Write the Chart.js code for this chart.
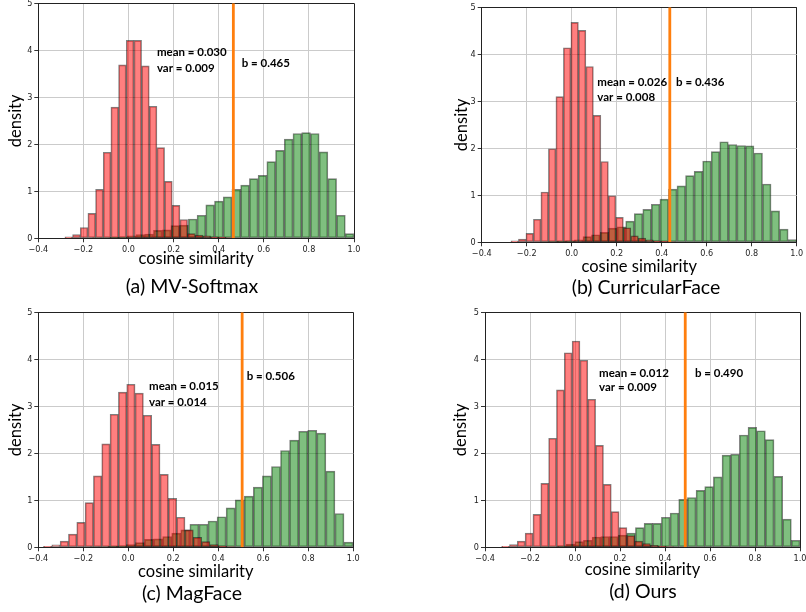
<!DOCTYPE html>
<html><head><meta charset="utf-8">
<script src="https://cdn.jsdelivr.net/npm/chart.js@4.4.1/dist/chart.umd.min.js"></script>
<style>
html,body{margin:0;padding:0;background:#fff;width:806px;height:612px;overflow:hidden;position:relative;}
canvas{position:absolute;}
.cap{position:absolute;width:300px;text-align:center;font-family:Lato,sans-serif;font-size:19.5px;line-height:22px;color:#000;white-space:nowrap;}
</style></head><body>
<canvas id="cA" width="400" height="300" style="left:0;top:0"></canvas>
<canvas id="cB" width="406" height="300" style="left:400px;top:0"></canvas>
<canvas id="cC" width="400" height="312" style="left:0;top:300px"></canvas>
<canvas id="cD" width="406" height="312" style="left:400px;top:300px"></canvas>
<div class="cap" style="left:42px;top:275px">(a) MV-Softmax</div>
<div class="cap" style="left:496px;top:276px">(b) CurricularFace</div>
<div class="cap" style="left:42px;top:582px">(c) MagFace</div>
<div class="cap" style="left:493px;top:580px">(d) Ours</div>
<script>
const xTickLabels = ['\u22120.4','\u22120.2','0.0','0.2','0.4','0.6','0.8','1.0'];
const yTickLabels = ['0','1','2','3','4','5'];
const xAxisTitle = 'cosine similarity';
const yAxisTitle = 'density';

// (a) MV-Softmax
const redStartA = -0.282, redWidthA = 0.034;
const redA = [0.03,0.08,0.23,0.53,1.04,1.83,2.79,3.69,4.21,4.21,3.67,2.81,1.93,1.21,0.70,0.40,0.10,0.07,0.05,0.03,0.02,0.01];
const greenStartA = -0.16, greenWidthA = 0.03867;
const greenA = [0.005,0.01,0.02,0.03,0.05,0.08,0.09,0.17,0.18,0.27,0.28,0.41,0.49,0.71,0.79,0.88,1.04,1.13,1.27,1.34,1.63,1.87,2.11,2.23,2.25,2.23,1.84,1.27,0.49,0.10];
const bA = 0.465;
const notesA = ['mean = 0.030','var = 0.009','b = 0.465'];

// (b) CurricularFace
const redStartB = -0.27, redWidthB = 0.0333;
const redB = [0.03,0.07,0.19,0.49,1.07,1.99,3.10,4.14,4.68,4.51,3.74,2.70,1.72,0.99,0.53,0.31,0.14,0.09,0.05,0.03,0.02,0.01];
const greenStartB = -0.14, greenWidthB = 0.038;
const greenB = [0.01,0.015,0.02,0.03,0.05,0.12,0.16,0.21,0.30,0.33,0.45,0.61,0.70,0.81,0.92,1.13,1.20,1.42,1.51,1.73,1.93,2.14,2.08,2.06,2.05,1.90,1.24,0.67,0.28,0.06];
const bB = 0.436;
const notesB = ['mean = 0.026','var = 0.008','b = 0.436'];

// (c) MagFace
const redStartC = -0.377, redWidthC = 0.037;
const redC = [0.02,0.05,0.13,0.28,0.53,0.95,1.52,2.20,2.83,3.30,3.47,3.28,2.81,2.19,1.55,1.04,0.64,0.37,0.21,0.12,0.06,0.03,0.01];
const greenStartC = -0.21, greenWidthC = 0.0403;
const greenC = [0,0.005,0.01,0.02,0.03,0.06,0.10,0.17,0.18,0.23,0.30,0.37,0.49,0.49,0.56,0.65,0.84,1.01,1.09,1.28,1.52,1.72,2.06,2.28,2.47,2.49,2.43,1.62,0.72,0.11];
const bC = 0.506;
const notesC = ['mean = 0.015','var = 0.014','b = 0.506'];

// (d) Ours
const redStartD = -0.326, redWidthD = 0.0348;
const redD = [0.02,0.06,0.13,0.30,0.70,1.36,2.32,3.35,4.14,4.39,3.98,3.15,2.17,1.34,0.76,0.42,0.25,0.13,0.08,0.04,0.02,0.01];
const greenStartD = -0.155, greenWidthD = 0.0385;
const greenD = [0.005,0.01,0.03,0.07,0.12,0.15,0.22,0.23,0.23,0.26,0.30,0.42,0.51,0.51,0.64,0.73,1.02,1.06,1.21,1.29,1.50,1.96,1.98,2.39,2.55,2.48,2.29,1.51,0.60,0.15];
const bD = 0.490;
const notesD = ['mean = 0.012','var = 0.009','b = 0.490'];

const tickFont = {family:"'DejaVu Sans Condensed', 'DejaVu Sans'", size:9};
const titleFamily = "Lato, 'Open Sans', sans-serif";

function binPoints(start, width, heights) {
  return heights.map((h, i) => ({x: +(start + width * (i + 0.5)).toFixed(5), y: h}));
}

function notesPlugin(items) {
  return {
    id: 'notes',
    afterDatasetsDraw(chart) {
      const ctx = chart.ctx, xs = chart.scales.x, ys = chart.scales.y;
      ctx.save();
      ctx.font = "bold 11.5px " + titleFamily;
      ctx.fillStyle = '#000';
      ctx.textBaseline = 'middle';
      ctx.textAlign = 'left';
      items.forEach(n => ctx.fillText(n.text, xs.getPixelForValue(n.x), ys.getPixelForValue(n.y)));
      ctx.restore();
    }
  };
}

function makeChart(id, g) {
  const frameX = c => (c.tick && Math.abs(c.tick.value - 1) < 1e-9) ? '#222' : '#cbcbcb';
  const frameY = c => (c.tick && Math.abs(c.tick.value - 5) < 1e-9) ? '#222' : '#cbcbcb';
  return new Chart(document.getElementById(id), {
    type: 'bar',
    data: {
      datasets: [
        {type:'line', label:'b', data:[{x:g.b, y:0},{x:g.b, y:5}], xAxisID:'x', yAxisID:'y',
         borderColor:'#ff7f0e', borderWidth:2.8, pointRadius:0, fill:false, order:0},
        {label:'negative pairs', data:binPoints(g.rs, g.rw, g.red), xAxisID:'x', yAxisID:'y',
         backgroundColor:'rgba(255,0,0,0.5)', borderColor:'rgba(0,0,0,0.5)', borderWidth:1,
         borderSkipped:false, barPercentage:1, categoryPercentage:1, grouped:false, order:1},
        {label:'positive pairs', data:binPoints(g.gs, g.gw, g.green), xAxisID:'xg', yAxisID:'y',
         backgroundColor:'rgba(0,128,0,0.5)', borderColor:'rgba(0,0,0,0.5)', borderWidth:1,
         borderSkipped:false, barPercentage:1, categoryPercentage:1, grouped:false, order:2}
      ]
    },
    options: {
      responsive:false, animation:false, devicePixelRatio:1,
      layout:{padding:{top:g.padTop, right:g.padRight, left:0, bottom:0}},
      plugins:{legend:{display:false}, tooltip:{enabled:false}},
      scales:{
        x:{type:'linear', position:'bottom', min:-0.4, max:1.0, offset:false,
           ticks:{stepSize:0.2, autoSkip:false, maxRotation:0, font:tickFont, color:'#222', padding:2,
                  callback:(v,i)=>xTickLabels[i]},
           grid:{offset:false, color:frameX, lineWidth:1, tickColor:'#333', tickLength:4},
           border:{color:'#222', width:1},
           title:{display:true, text:xAxisTitle, color:'#000', font:{family:titleFamily, size:16.5}, padding:{top:0, bottom:g.xtPad}},
           afterFit:s=>{s.height=g.hx; s.paddingLeft=0; s.paddingRight=0;}},
        xg:{type:'linear', display:false, min:-0.4, max:1.0, offset:false, grid:{offset:false},
           afterFit:s=>{s.height=0; s.paddingLeft=0; s.paddingRight=0;}},
        y:{type:'linear', position:'left', min:0, max:5,
           ticks:{stepSize:1, font:tickFont, color:'#222', padding:2, callback:(v,i)=>yTickLabels[i]},
           grid:{color:frameY, lineWidth:1, tickColor:'#333', tickLength:4},
           border:{color:'#222', width:1},
           title:{display:true, text:yAxisTitle, color:'#000', font:{family:titleFamily, size:16.5}, padding:{top:g.ytPad, bottom:0}},
           afterFit:s=>{s.width=g.wy; s.paddingTop=0; s.paddingBottom=0;}}
      }
    },
    plugins:[notesPlugin(g.notes)]
  });
}

makeChart('cA', {b:bA, rs:redStartA, rw:redWidthA, red:redA, gs:greenStartA, gw:greenWidthA, green:greenA,
  padTop:3.3, padRight:46, wy:38.3, hx:61.7, ytPad:5.4, xtPad:31.4,
  notes:[{text:notesA[0], x:0.126, y:3.95},{text:notesA[1], x:0.126, y:3.61},{text:notesA[2], x:0.502, y:3.73}]});
makeChart('cB', {b:bB, rs:redStartB, rw:redWidthB, red:redB, gs:greenStartB, gw:greenWidthB, green:greenB,
  padTop:7.3, padRight:9.3, wy:81.7, hx:57.7, ytPad:51.4, xtPad:23.4,
  notes:[{text:notesB[0], x:0.114, y:3.41},{text:notesB[1], x:0.114, y:3.09},{text:notesB[2], x:0.464, y:3.41}]});
makeChart('cC', {b:bC, rs:redStartC, rw:redWidthC, red:redC, gs:greenStartC, gw:greenWidthC, green:greenC,
  padTop:12.3, padRight:46.7, wy:38.3, hx:64.7, ytPad:5.4, xtPad:30.7,
  notes:[{text:notesC[0], x:0.092, y:3.42},{text:notesC[1], x:0.092, y:3.09},{text:notesC[2], x:0.526, y:3.63}]});
makeChart('cD', {b:bD, rs:redStartD, rw:redWidthD, red:redD, gs:greenStartD, gw:greenWidthD, green:greenD,
  padTop:12.3, padRight:6, wy:85, hx:64.7, ytPad:50.4, xtPad:32.4,
  notes:[{text:notesD[0], x:0.107, y:3.70},{text:notesD[1], x:0.107, y:3.40},{text:notesD[2], x:0.533, y:3.70}]});
</script>
</body></html>
